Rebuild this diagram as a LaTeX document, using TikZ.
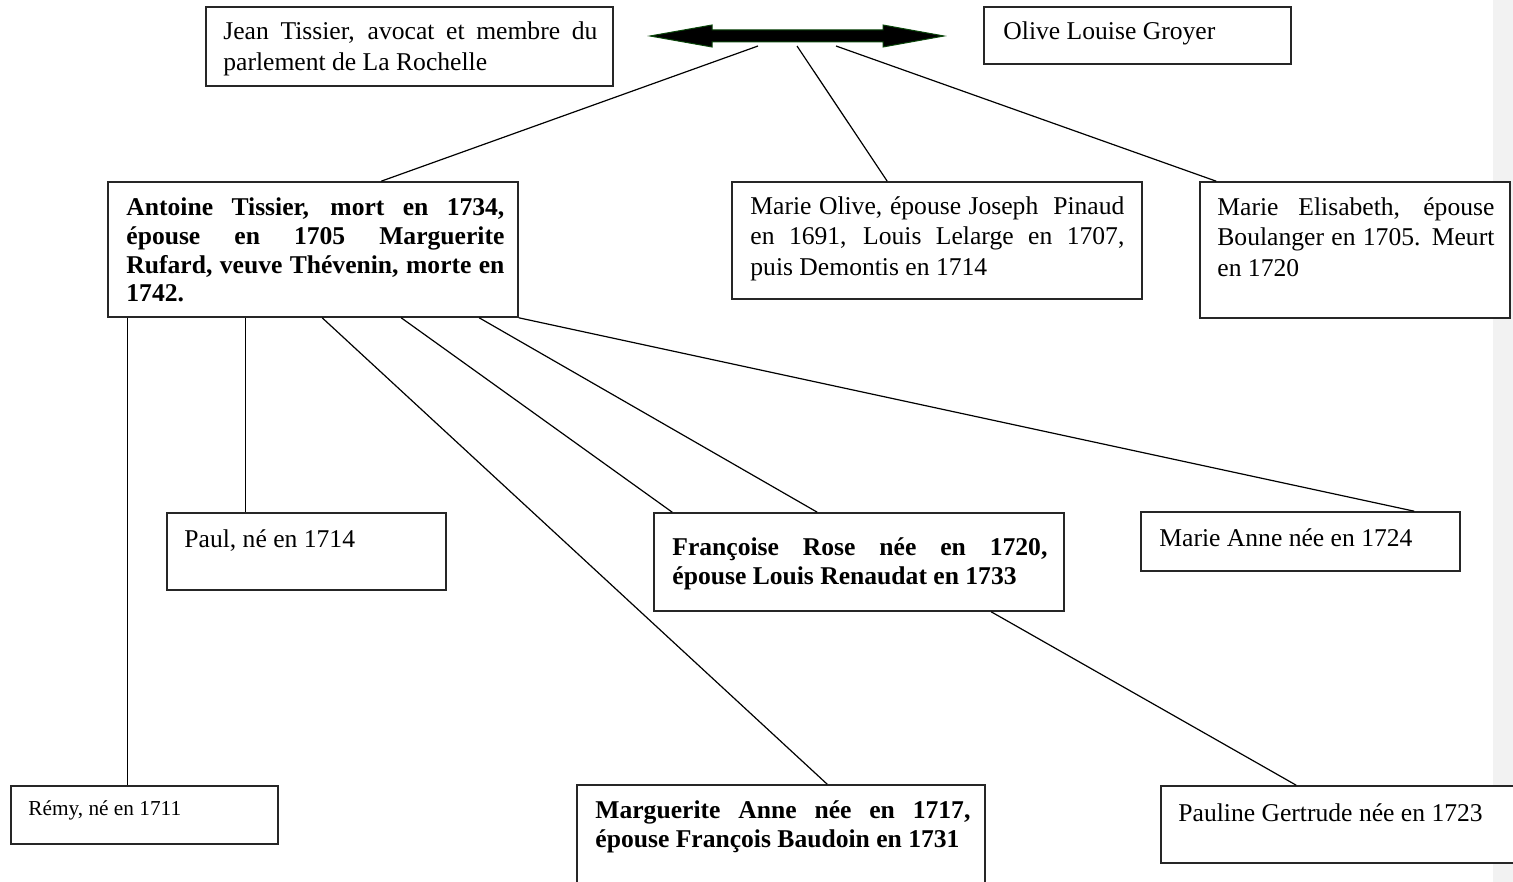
\documentclass[tikz,border=0pt]{standalone}
\usepackage{fontspec}
\setmainfont{Liberation Serif}
\usetikzlibrary{fit,calc}
\definecolor{sidebar}{RGB}{242,242,242}
\definecolor{arrowedge}{RGB}{10,70,10}
\hyphenpenalty=10000
\exhyphenpenalty=10000
\tolerance=9999
\hbadness=10000
\begin{document}
\begin{tikzpicture}[x=0.5pt,y=-0.5pt,
  box/.style={draw=black!85, line width=0.8pt, fill=white, inner sep=0pt},
  txt/.style={inner sep=0pt, anchor=base west, align=justify, font=\fontsize{12.8}{15.25}\selectfont},
  btxt/.style={inner sep=0pt, anchor=base west, align=justify, font=\fontsize{12.8}{14.5}\selectfont\bfseries},
  link/.style={line width=0.6pt, draw=black}]
\useasboundingbox (0,0) rectangle (1513,882);
\fill[sidebar] (1493,0) rectangle (1513,882);

% boxes
\node[box, fit={(206,7) (613,86)}] (jean) {};
\node[box, fit={(984,7) (1291,64)}] (olive) {};
\node[box, fit={(108,182) (518,317)}] (antoine) {};
\node[box, fit={(732,182) (1142,299)}] (marieolive) {};
\node[box, fit={(1200,182) (1510,318)}] (elisabeth) {};
\node[box, fit={(167,513) (446,590)}] (paul) {};
\node[box, fit={(654,513) (1064,611)}] (francoise) {};
\node[box, fit={(1141,512) (1460,571)}] (marieanne) {};
\node[box, fit={(11,786) (278,844)}] (remy) {};
\node[box, fit={(577,785) (985,900)}] (marguerite) {};
\node[box, fit={(1161,786) (1525,863)}] (pauline) {};

% texts
\node[txt, text width=187pt] (tjean) at (223,40) {Jean Tissier, avocat et membre du\linebreak parlement de La Rochelle};
\node[txt] (tolive) at (1003,40) {Olive Louise Groyer};
\node[btxt, text width=189pt] (tantoine) at (126,215) {Antoine Tissier, mort en 1734,\linebreak épouse en 1705 Marguerite\linebreak Rufard, veuve Thévenin, morte en\linebreak 1742.};
\node[txt, text width=187pt] (tmarieolive) at (750,214) {Marie Olive, épouse Joseph\ \ Pinaud\linebreak en 1691, Louis Lelarge en 1707,\linebreak puis Demontis en 1714};
\node[txt, text width=138.5pt] (telisabeth) at (1217,215) {Marie Elisabeth, épouse\linebreak Boulanger en 1705. Meurt\linebreak en 1720};
\node[txt] (tpaul) at (184,547) {Paul, né en 1714};
\node[btxt, text width=187.5pt] (tfrancoise) at (672,555) {Françoise Rose née en 1720,\linebreak épouse Louis Renaudat en 1733};
\node[txt] (tmarieanne) at (1159,546) {Marie Anne née en 1724};
\node[txt, font=\fontsize{10.65}{12.5}\selectfont] (tremy) at (28,815) {Rémy, né en 1711};
\node[btxt, text width=187.5pt] (tmarguerite) at (595,818) {Marguerite Anne née en 1717,\linebreak épouse François Baudoin en 1731};
\node[txt] (tpauline) at (1178,821) {Pauline Gertrude née en 1723};

% double arrow
\filldraw[fill=black, draw=arrowedge, line width=0.5pt]
  (650,36) -- (712,25) -- (712,30) -- (883,30) -- (883,25) -- (944,36)
  -- (883,47) -- (883,42) -- (712,42) -- (712,47) -- cycle;
\coordinate (a1) at (758,46);
\coordinate (a2) at (797,46);
\coordinate (a3) at (836,46);

% connectors from couple
\draw[link] (a1) -- ($(antoine.north west)+(274,0)$);
\draw[link] (a2) -- ($(marieolive.north west)+(156,0)$);
\draw[link] (a3) -- ($(elisabeth.north west)+(17,0)$);

% connectors from Antoine
\draw[link] ($(antoine.south west)+(20,0)$) -- ($(remy.north west)+(117,0)$);
\draw[link] ($(antoine.south west)+(138,0)$) -- ($(paul.north west)+(79,0)$);
\draw[link] ($(antoine.south west)+(215,0)$) -- ($(marguerite.north west)+(251,0)$);
\draw[link] ($(antoine.south west)+(294,0)$) -- ($(francoise.north west)+(19,0)$);
\draw[link] ($(antoine.south west)+(372,0)$) -- ($(francoise.north west)+(164,0)$);
\draw[link] (antoine.south east) -- ($(marieanne.north west)+(274,0)$);

% Françoise to Pauline
\draw[link] ($(francoise.south west)+(338,0)$) -- ($(pauline.north west)+(136,0)$);
\end{tikzpicture}
\end{document}
